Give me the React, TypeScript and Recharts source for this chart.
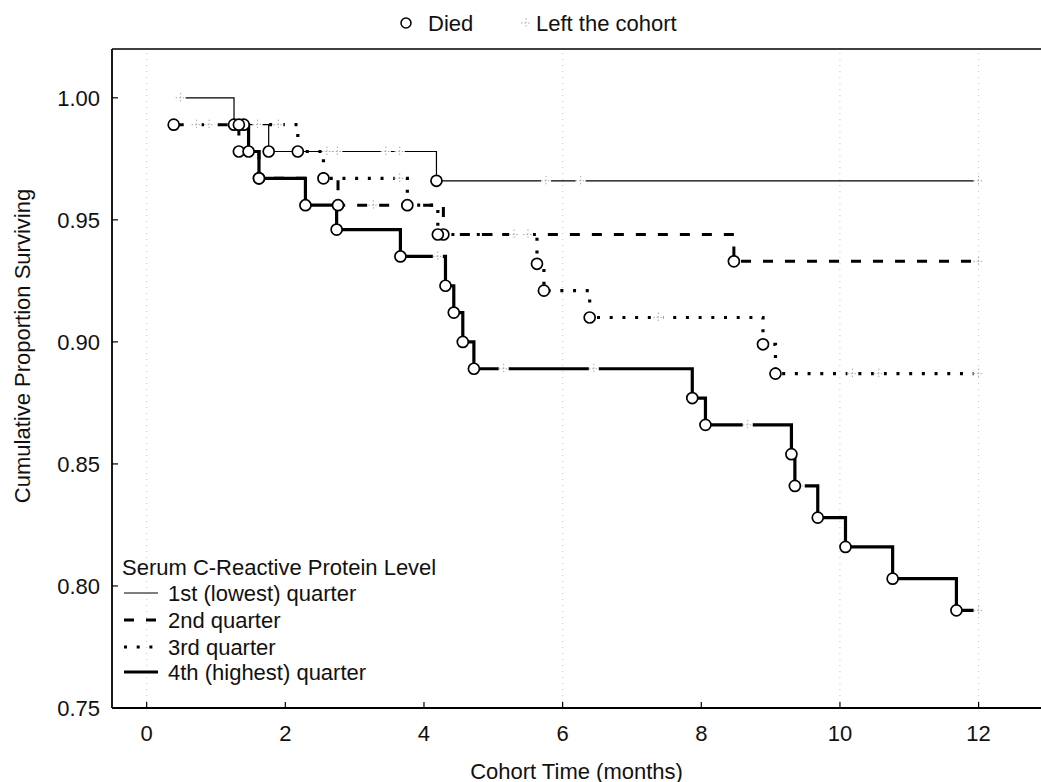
import { ComposedChart, Line, Scatter, XAxis, YAxis, ReferenceLine, Label } from 'recharts';

const FONT = '"Liberation Sans", Arial, Helvetica, sans-serif';

const xTicks = [0, 2, 4, 6, 8, 10, 12];
const yTicks = [0.75, 0.8, 0.85, 0.9, 0.95, 1.0];
const topTicks = [0, 1.857, 3.714, 5.571, 7.429, 9.286, 11.143];
const gridMonths = [0, 6, 10, 12];

// 1st (lowest) quarter
const q1Time = [0.49, 1.26, 1.76, 4.18, 12.0];
const q1Surv = [1.0, 0.989, 0.978, 0.966, 0.966];
const q1Censored = [0.49, 2.6, 2.75, 3.45, 3.65, 5.76, 6.26, 12.0];

// 2nd quarter
const q2Time = [0.39, 1.33, 1.62, 2.76, 4.28, 8.47, 12.0];
const q2Surv = [0.989, 0.978, 0.967, 0.956, 0.944, 0.933, 0.933];
const q2Censored = [0.72, 0.9, 3.27, 5.3, 12.0];

// 3rd quarter
const q3Time = [1.4, 2.18, 2.55, 3.76, 4.2, 5.63, 5.73, 6.39, 8.89, 9.07, 12.0];
const q3Surv = [0.989, 0.978, 0.967, 0.956, 0.944, 0.932, 0.921, 0.91, 0.899, 0.887, 0.887];
const q3Censored = [1.6, 1.9, 3.65, 5.5, 7.38, 10.18, 10.56, 12.0];

// 4th (highest) quarter
const q4Time = [1.33, 1.47, 1.62, 2.29, 2.74, 3.66, 4.31, 4.43, 4.56, 4.72, 7.87, 8.06, 9.3, 9.35, 9.68, 10.08, 10.76, 11.68, 12.0];
const q4Surv = [0.989, 0.978, 0.967, 0.956, 0.946, 0.935, 0.923, 0.912, 0.9, 0.889, 0.877, 0.866, 0.854, 0.841, 0.828, 0.816, 0.803, 0.79, 0.79];
const q4Censored = [4.2, 5.15, 6.45, 8.67, 9.42, 12.0];

type Pt = { t: number; s: number };

const steps = (time: number[], surv: number[]): Pt[] => time.map((t, i) => ({ t, s: surv[i] }));

const deaths = (time: number[], surv: number[]): Pt[] =>
    time
        .map((t, i) => ({ t, s: surv[i], died: i === 0 ? surv[i] < 1 : surv[i] < surv[i - 1] }))
        .filter((p) => p.died)
        .map(({ t, s }) => ({ t, s }));

const censors = (time: number[], surv: number[], cens: number[]): Pt[] =>
    cens.map((c) => {
        let s = surv[0];
        time.forEach((t, i) => {
            if (t <= c) s = surv[i];
        });
        return { t: c, s };
    });

const groups = [
    { key: 'q1', label: '1st (lowest) quarter', time: q1Time, surv: q1Surv, cens: q1Censored, width: 1.2, dash: undefined as string | undefined },
    { key: 'q2', label: '2nd quarter', time: q2Time, surv: q2Surv, cens: q2Censored, width: 3, dash: '10 12' },
    { key: 'q3', label: '3rd quarter', time: q3Time, surv: q3Surv, cens: q3Censored, width: 3.2, dash: '3 9.7' },
    { key: 'q4', label: '4th (highest) quarter', time: q4Time, surv: q4Surv, cens: q4Censored, width: 3.2, dash: undefined as string | undefined },
];

const DiedDot = (props: any) => {
    const { cx, cy } = props;
    if (cx == null || cy == null) return <g />;
    return <circle cx={cx} cy={cy} r={5.5} fill="#fff" stroke="#000" strokeWidth={1.7} />;
};

const CensorMark = (props: any) => {
    const { cx, cy } = props;
    if (cx == null || cy == null) return <g />;
    return (
        <g>
            <rect x={cx - 5} y={cy - 3} width={10} height={6} fill="#fff" />
            <line x1={cx - 5} y1={cy} x2={cx + 5} y2={cy} stroke="#aaa" strokeWidth={1} strokeDasharray="1.5 2" />
            <line x1={cx} y1={cy - 5} x2={cx} y2={cy + 5} stroke="#aaa" strokeWidth={1} strokeDasharray="1.5 2" />
        </g>
    );
};

const YTitle = ({ viewBox }: any) => (
    <text
        x={22}
        y={346}
        transform="rotate(-90, 22, 346)"
        textAnchor="middle"
        dominantBaseline="central"
        fontFamily={FONT}
        fontSize={22}
        fill="#111"
    >
        Cumulative Proportion Surviving
    </text>
);

const XTitle = ({ viewBox }: any) => (
    <text
        x={viewBox.x + viewBox.width / 2}
        y={771}
        textAnchor="middle"
        dominantBaseline="central"
        fontFamily={FONT}
        fontSize={22}
        fill="#111"
    >
        Cohort Time (months)
    </text>
);

const legendRows = [593, 620, 647, 672];

export default function App() {
    return (
        <div style={{ position: 'absolute', left: 0, top: 0, width: 1041, height: 782, background: '#fff' }}>
            <ComposedChart width={1041} height={782} margin={{ top: 48, right: 0, bottom: 0, left: 52 }}>
                <XAxis
                    xAxisId="top"
                    orientation="top"
                    type="number"
                    dataKey="t"
                    domain={[-0.5, 12.9]}
                    allowDataOverflow
                    ticks={topTicks}
                    tick={false}
                    tickSize={-5}
                    height={1}
                    axisLine={{ stroke: '#000', strokeWidth: 1.5 }}
                    tickLine={{ stroke: '#000', strokeWidth: 1.2 }}
                />
                <XAxis
                    type="number"
                    dataKey="t"
                    domain={[-0.5, 12.9]}
                    allowDataOverflow
                    ticks={xTicks}
                    tickSize={-6}
                    tickMargin={23}
                    height={74}
                    axisLine={{ stroke: '#000', strokeWidth: 1.8 }}
                    tickLine={{ stroke: '#000', strokeWidth: 1.2 }}
                    tick={{ fill: '#111', fontSize: 22, fontFamily: FONT }}
                >
                    <Label content={<XTitle />} />
                </XAxis>
                <YAxis
                    type="number"
                    dataKey="s"
                    domain={[0.75, 1.02]}
                    allowDataOverflow
                    ticks={yTicks}
                    tickFormatter={(v: number) => v.toFixed(2)}
                    width={60}
                    tickSize={-6}
                    tickMargin={18}
                    axisLine={{ stroke: '#000', strokeWidth: 1.8 }}
                    tickLine={{ stroke: '#000', strokeWidth: 1.2 }}
                    tick={{ fill: '#111', fontSize: 22, fontFamily: FONT }}
                >
                    <Label content={<YTitle />} />
                </YAxis>
                {gridMonths.map((m) => (
                    <ReferenceLine key={m} x={m} stroke="#c8c8c8" strokeWidth={1} strokeDasharray="1 5" />
                ))}
                {groups.map((g) => (
                    <Line
                        key={g.key}
                        data={steps(g.time, g.surv)}
                        dataKey="s"
                        type="stepAfter"
                        stroke="#000"
                        strokeWidth={g.width}
                        strokeDasharray={g.dash}
                        dot={false}
                        activeDot={false}
                        isAnimationActive={false}
                    />
                ))}
                {groups.map((g) => (
                    <Scatter
                        key={g.key + '-c'}
                        data={censors(g.time, g.surv, g.cens)}
                        dataKey="s"
                        shape={<CensorMark />}
                        isAnimationActive={false}
                    />
                ))}
                {groups.map((g) => (
                    <Scatter
                        key={g.key + '-d'}
                        data={deaths(g.time, g.surv)}
                        dataKey="s"
                        shape={<DiedDot />}
                        isAnimationActive={false}
                    />
                ))}
            </ComposedChart>
            <svg
                width={1041}
                height={782}
                style={{ position: 'absolute', left: 0, top: 0, pointerEvents: 'none' }}
                fontFamily={FONT}
                fontSize={22}
                fill="#111"
            >
                <circle cx={406} cy={23} r={5} fill="#fff" stroke="#000" strokeWidth={1.5} />
                <text x={428} y={23} dominantBaseline="central">Died</text>
                <g>
                    <line x1={521} y1={23} x2={531} y2={23} stroke="#aaa" strokeDasharray="1.5 2" />
                    <line x1={526} y1={18} x2={526} y2={28} stroke="#aaa" strokeDasharray="1.5 2" />
                </g>
                <text x={536} y={23} dominantBaseline="central">Left the cohort</text>

                <text x={122} y={567} dominantBaseline="central">Serum C-Reactive Protein Level</text>
                {groups.map((g, i) => (
                    <g key={g.key}>
                        <line
                            x1={124}
                            y1={legendRows[i]}
                            x2={158}
                            y2={legendRows[i]}
                            stroke="#000"
                            strokeWidth={g.width}
                            strokeDasharray={g.dash}
                        />
                        <text x={168} y={legendRows[i]} dominantBaseline="central">{g.label}</text>
                    </g>
                ))}
            </svg>
        </div>
    );
}
